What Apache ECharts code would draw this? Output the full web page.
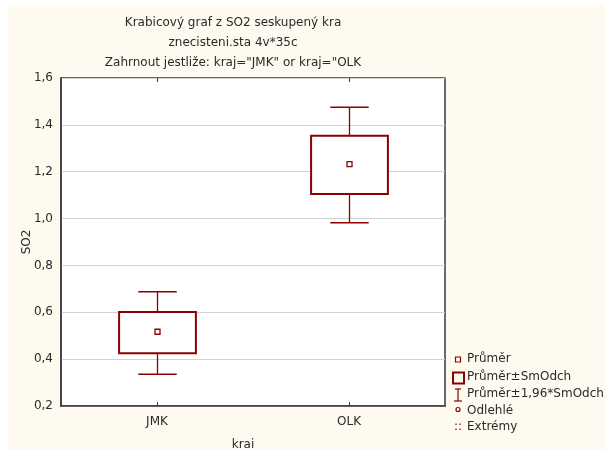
<!DOCTYPE html>
<html>
<head>
<meta charset="utf-8">
<script src="https://cdn.jsdelivr.net/npm/echarts@6/dist/echarts.min.js"></script>
<style>
html,body{margin:0;padding:0;background:#fff;}
#main{width:605px;height:450px;}
</style>
</head>
<body>
<div id="main"></div>
<script>
const categories = ['JMK', 'OLK'];
const means = [0.517, 1.232];
const sdLow = [0.425, 1.105];
const sdHigh = [0.601, 1.354];
const ciLow = [0.335, 0.982];
const ciHigh = [0.688, 1.475];
const titleLines = ['Krabicový graf z SO2 seskupený kra', 'znecisteni.sta 4v*35c', 'Zahrnout jestliže: kraj="JMK" or kraj="OLK'];
const legendNames = ['Průměr', 'Průměr±SmOdch', 'Průměr±1,96*SmOdch', 'Odlehlé', 'Extrémy'];
const yName = 'SO2';
const xName = 'krai';

const RED = '#8B0000';
const FONT = 'DejaVu Sans';
const TXT = '#2a2a2a';

const chart = echarts.init(document.getElementById('main'));

const boxData = categories.map((c, i) => [i, sdLow[i], sdHigh[i], ciLow[i], ciHigh[i], means[i]]);

function renderBox(params, api) {
  const idx = api.value(0);
  const band = api.size([1, 0])[0];
  const bw = band * 0.4, cw = band * 0.2;
  const pLo = api.coord([idx, api.value(1)]);
  const pHi = api.coord([idx, api.value(2)]);
  const wLo = api.coord([idx, api.value(3)]);
  const wHi = api.coord([idx, api.value(4)]);
  const pm = api.coord([idx, api.value(5)]);
  const x = Math.round(pLo[0]) + 0.5;
  return {
    type: 'group',
    children: [
      { type: 'line', shape: { x1: x, y1: wHi[1], x2: x, y2: pHi[1] }, style: { stroke: RED, lineWidth: 1.3 } },
      { type: 'line', shape: { x1: x, y1: pLo[1], x2: x, y2: wLo[1] }, style: { stroke: RED, lineWidth: 1.3 } },
      { type: 'line', shape: { x1: x - cw / 2, y1: wHi[1], x2: x + cw / 2, y2: wHi[1] }, style: { stroke: RED, lineWidth: 1.5 } },
      { type: 'line', shape: { x1: x - cw / 2, y1: wLo[1], x2: x + cw / 2, y2: wLo[1] }, style: { stroke: RED, lineWidth: 1.5 } },
      { type: 'rect', shape: { x: x - bw / 2, y: pHi[1], width: bw, height: pLo[1] - pHi[1] }, style: { stroke: RED, lineWidth: 2, fill: '#fff' } },
      { type: 'rect', shape: { x: x - 2.5, y: pm[1] - 2.5, width: 5, height: 5 }, style: { stroke: RED, lineWidth: 1.3, fill: '#fff' } }
    ]
  };
}

const LX = 458;
const legendY = [360, 378, 395, 411.5, 428];
const legendGraphics = [];
legendNames.forEach((n, i) => {
  legendGraphics.push({ type: 'text', left: 467, top: legendY[i] - 7, style: { text: n, font: '12px "DejaVu Sans"', fill: TXT } });
});
legendGraphics.push(
  { type: 'rect', shape: { x: LX - 2.5, y: legendY[0] - 3, width: 5, height: 5 }, style: { stroke: RED, lineWidth: 1.2, fill: 'none' } },
  { type: 'rect', shape: { x: LX - 5, y: legendY[1] - 5.5, width: 11, height: 11 }, style: { stroke: RED, lineWidth: 2, fill: 'none' } },
  { type: 'polyline', shape: { points: [[LX - 3, legendY[2] - 6], [LX + 3, legendY[2] - 6]] }, style: { stroke: RED, lineWidth: 1.2 } },
  { type: 'polyline', shape: { points: [[LX, legendY[2] - 6], [LX, legendY[2] + 6]] }, style: { stroke: RED, lineWidth: 1.2 } },
  { type: 'polyline', shape: { points: [[LX - 4, legendY[2] + 6], [LX + 4, legendY[2] + 6]] }, style: { stroke: RED, lineWidth: 1.2 } },
  { type: 'circle', shape: { cx: LX, cy: legendY[3] - 2, r: 2 }, style: { stroke: RED, lineWidth: 1.2, fill: 'none' } },
  { type: 'text', left: LX - 4, top: legendY[4] - 7, style: { text: '::', font: '12px "DejaVu Sans"', fill: RED } }
);

const titleGraphics = titleLines.map((t, i) => ({
  type: 'text', x: 233, y: [23, 43, 63][i],
  style: { text: t, font: '12px "DejaVu Sans"', fill: TXT, textAlign: 'center', textVerticalAlign: 'middle' }
}));

const option = {
  backgroundColor: '#fff',
  animation: false,
  grid: { left: 61, top: 78, right: 160, bottom: 44, outerBoundsMode: 'none', containLabel: false, show: true, backgroundColor: '#fff', borderColor: '#3a3a3a', borderWidth: 1.5 },
  xAxis: [{
    type: 'category', data: categories,
    name: xName, nameLocation: 'middle', nameGap: 33, nameMoveOverlap: false,
    nameTextStyle: { fontFamily: FONT, fontSize: 12, color: TXT, padding: [0, 20, 0, 0] },
    axisLine: { show: true, lineStyle: { color: '#3a3a3a', width: 1.5 } },
    axisTick: { show: true, inside: true, alignWithLabel: true, length: 4, lineStyle: { color: '#3a3a3a' } },
    axisLabel: { fontFamily: FONT, fontSize: 12, color: TXT, margin: 10 },
    splitLine: { show: false }
  }, {
    type: 'category', data: categories, position: 'top',
    axisLine: { show: false },
    axisTick: { show: true, inside: true, alignWithLabel: true, length: 4, lineStyle: { color: '#3a3a3a' } },
    axisLabel: { show: false }
  }],
  yAxis: {
    type: 'value', min: 0.2, max: 1.6, interval: 0.2,
    name: yName, nameLocation: 'middle', nameGap: 28, nameRotate: 90, nameMoveOverlap: false,
    nameTextStyle: { fontFamily: FONT, fontSize: 12, color: TXT },
    axisLine: { show: true, lineStyle: { color: '#3a3a3a', width: 1.5 } },
    axisTick: { show: false },
    axisLabel: { fontFamily: FONT, fontSize: 12, color: TXT, margin: 8, formatter: v => v.toFixed(1).replace('.', ',') },
    splitLine: { show: true, lineStyle: { color: '#d2d2d2', width: 1 } }
  },
  graphic: [
    { type: 'rect', z: -10, silent: true, shape: { x: 8, y: 5, width: 597, height: 445 }, style: { fill: '#fffaef' } },
    ...titleGraphics,
    ...legendGraphics
  ],
  series: [{
    type: 'custom',
    name: 'Průměr±SmOdch',
    renderItem: renderBox,
    encode: { x: 0, y: [1, 2, 3, 4, 5] },
    data: boxData,
    z: 5
  }]
};
chart.setOption(option);
</script>
</body>
</html>
